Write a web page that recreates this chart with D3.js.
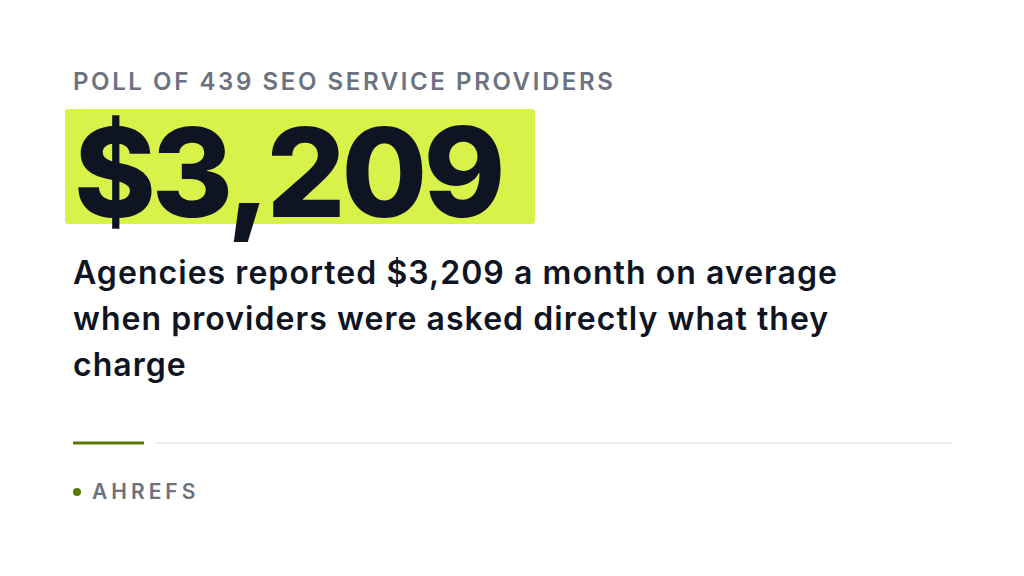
<!DOCTYPE html>
<html><head><meta charset="utf-8">
<script src="https://cdn.jsdelivr.net/npm/d3@7"></script>
<style>body{margin:0;background:#fff}svg{display:block}</style></head>
<body><svg id="c" width="1024" height="576"></svg>
<script>
const kicker = ["POLL OF 439 SEO SERVICE PROVIDERS"];
const values = [3209];
const descLines = ["Agencies reported $3,209 a month on average","when providers were asked directly what they","charge"];
const source = ["AHREFS"];
const svg = d3.select("#c");
const font = "Inter, 'Noto Sans', sans-serif";
svg.append("rect").attr("width",1024).attr("height",576).attr("fill","#fff");
svg.selectAll(".k").data(kicker).join("text").attr("x",73).attr("y",90)
  .attr("font-family",font).attr("font-size",24).attr("font-weight",600)
  .attr("letter-spacing",2.6).attr("fill","#6b7280").text(d=>d);
svg.append("rect").attr("x",65).attr("y",109).attr("width",470).attr("height",115).attr("rx",3).attr("fill","#d9f24a");
const fmt = d3.format("$,");
svg.selectAll(".v").data(values).join("text").attr("x",74).attr("y",217)
  .attr("font-family",font).attr("font-size",124).attr("font-weight",800)
  .attr("letter-spacing",-4).attr("fill","#0f1422").text(d=>fmt(d));
svg.selectAll(".d").data(descLines).join("text").attr("x",73).attr("y",(d,i)=>284+i*46)
  .attr("font-family",font).attr("font-size",32).attr("font-weight",600)
  .attr("letter-spacing",1.05).attr("fill","#0f1422").text(d=>d);
svg.append("line").attr("x1",155).attr("x2",952).attr("y1",443).attr("y2",443).attr("stroke","#e5e7eb").attr("stroke-width",1.5);
svg.append("line").attr("x1",73).attr("x2",144).attr("y1",443).attr("y2",443).attr("stroke","#5a7a00").attr("stroke-width",3);
svg.append("circle").attr("cx",77).attr("cy",492).attr("r",4).attr("fill","#5a7a00");
svg.selectAll(".s").data(source).join("text").attr("x",92).attr("y",499)
  .attr("font-family",font).attr("font-size",21).attr("font-weight",600)
  .attr("letter-spacing",4).attr("fill","#6b7280").text(d=>d);
</script></body></html>
